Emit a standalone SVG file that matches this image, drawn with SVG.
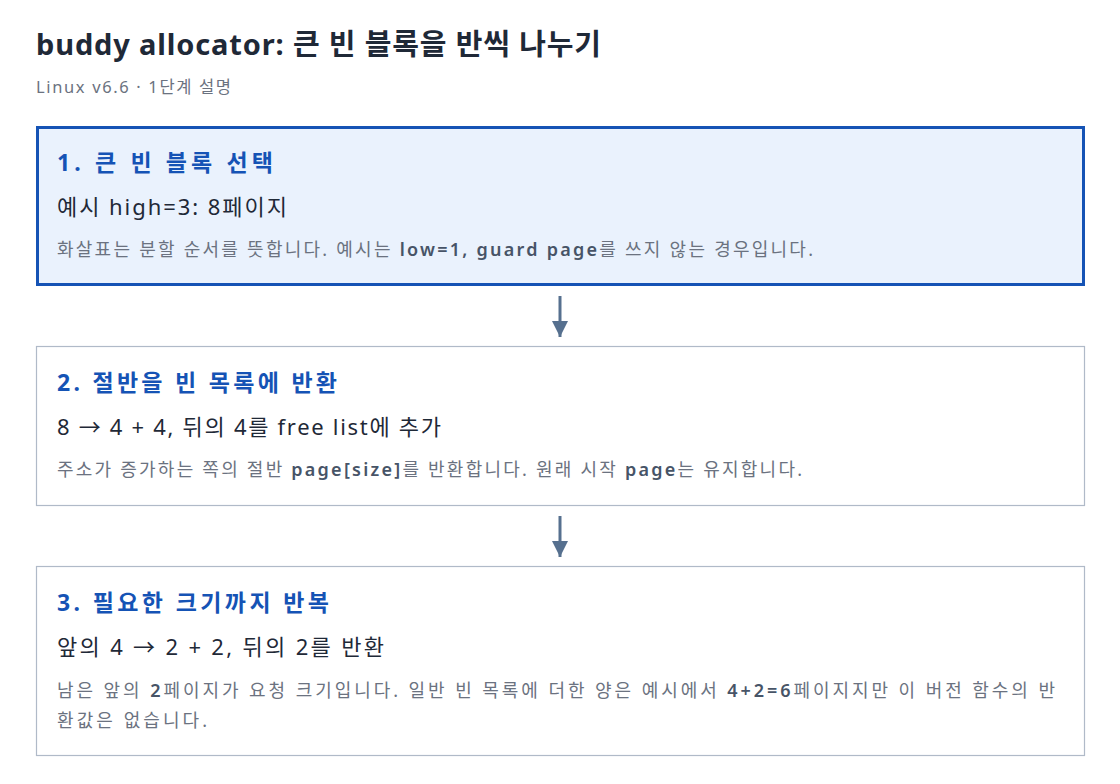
<svg xmlns="http://www.w3.org/2000/svg" width="1120" height="784" viewBox="0 0 1120 784">
<style>
text{font-family:"Noto Sans","Noto Sans CJK KR",sans-serif}
.title{font-size:29px;font-weight:700;fill:#1f2937}
.subt{font-size:16.5px;fill:#6b7280}
.h{font-size:23px;font-weight:700;fill:#1553b5}
.s{font-size:22px;fill:#1f2937}
.d{font-size:18px;fill:#6b7280}
.d .l{fill:#475467;font-weight:600}
.box{fill:#ffffff;stroke:#b0bac8;stroke-width:1.2}
.box.hl{fill:#eaf2fd;stroke:#1553b5;stroke-width:3}
.conn{stroke:#56708f;stroke-width:3;fill:none}
</style>
<defs>
<marker id="ah" viewBox="0 0 10 10" refX="10" refY="5" markerWidth="5.5" markerHeight="5.5" orient="auto" markerUnits="strokeWidth">
<path d="M0,0L10,5L0,10z" fill="#56708f"/>
</marker>
</defs>
<rect width="1120" height="784" fill="#ffffff"/>
<text class="title" x="36" y="55" textLength="565" lengthAdjust="spacing">buddy allocator: 큰 빈 블록을 반씩 나누기</text>
<text class="subt" x="36" y="93" textLength="195" lengthAdjust="spacing">Linux v6.6 · 1단계 설명</text>
<g id="connectors">
<line class="conn" x1="560" y1="296" x2="560" y2="337" marker-end="url(#ah)"/>
<line class="conn" x1="560" y1="516" x2="560" y2="557" marker-end="url(#ah)"/>
</g>
<g id="step1">
<rect class="box hl" x="37.5" y="127.5" width="1046" height="157"/>
<text class="h" x="57" y="171" textLength="216" lengthAdjust="spacing">1. 큰 빈 블록 선택</text>
<text class="s" x="57" y="215" textLength="230" lengthAdjust="spacing">예시 high=3: 8페이지</text>
<text class="d" x="57" y="256" textLength="756" lengthAdjust="spacing">화살표는 분할 순서를 뜻합니다. 예시는 <tspan class="l">low=1, guard page</tspan>를 쓰지 않는 경우입니다.</text>
</g>
<g id="step2">
<rect class="box" x="36.5" y="346.5" width="1048" height="159"/>
<text class="h" x="57" y="391" textLength="280" lengthAdjust="spacing">2. 절반을 빈 목록에 반환</text>
<text class="s" x="57" y="435" textLength="384" lengthAdjust="spacing">8 → 4 + 4, 뒤의 4를 free list에 추가</text>
<text class="d" x="57" y="476" textLength="745" lengthAdjust="spacing">주소가 증가하는 쪽의 절반 <tspan class="l">page[size]</tspan>를 반환합니다. 원래 시작 <tspan class="l">page</tspan>는 유지합니다.</text>
</g>
<g id="step3">
<rect class="box" x="36.5" y="566.5" width="1048" height="189"/>
<text class="h" x="57" y="611" textLength="272" lengthAdjust="spacing">3. 필요한 크기까지 반복</text>
<text class="s" x="57" y="655" textLength="327" lengthAdjust="spacing">앞의 4 → 2 + 2, 뒤의 2를 반환</text>
<text class="d" x="57" y="697" textLength="998" lengthAdjust="spacing">남은 앞의 <tspan class="l">2</tspan>페이지가 요청 크기입니다. 일반 빈 목록에 더한 양은 예시에서 <tspan class="l">4+2=6</tspan>페이지지만 이 버전 함수의 반</text>
<text class="d" x="57" y="727" textLength="150" lengthAdjust="spacing">환값은 없습니다.</text>
</g>
</svg>
